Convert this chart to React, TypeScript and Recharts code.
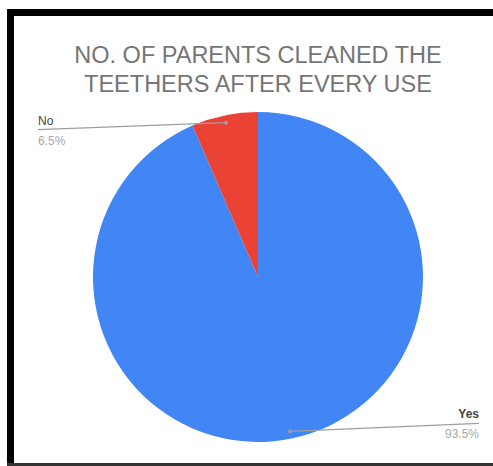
import { PieChart, Pie, Cell } from "recharts";

const answers = ["Yes", "No"];
const parentCounts = [93.5, 6.5];
const sliceColors = ["#4285f4", "#ea4335"];
const titleLines = ["NO. OF PARENTS CLEANED THE", "TEETHERS AFTER EVERY USE"];

const data = answers.map((name, i) => ({ name, value: parentCounts[i] }));

const RADIAN = Math.PI / 180;
const FONT = "'Liberation Sans', Arial, sans-serif";

// google-style label: small dot inside the slice, leader line out to the side
function renderLabel(props: any) {
  const { cx, cy, midAngle, outerRadius, percent, name } = props;
  const r = outerRadius * 0.955;
  const dx = cx + r * Math.cos(-midAngle * RADIAN);
  const dy = cy + r * Math.sin(-midAngle * RADIAN);
  const left = dx < cx;
  const endX = left ? cx - 220 : cx + 221;
  const endY = left ? dy + 7 : dy - 8;
  const anchor = left ? "start" : "end";
  return (
    <g>
      <line x1={dx} y1={dy} x2={endX} y2={endY} stroke="#9e9e9e" strokeWidth={1.2} />
      <circle cx={dx} cy={dy} r={2} fill="#9e9e9e" />
      <text
        x={endX}
        y={endY - 5}
        textAnchor={anchor}
        fontFamily={FONT}
        fontSize={12}
        fill="#444"
        fontWeight={left ? 400 : 700}
      >
        {name}
      </text>
      <text x={endX} y={endY + 15} textAnchor={anchor} fontFamily={FONT} fontSize={12} fill="#a8a8a8">
        {(percent * 100).toFixed(1) + "%"}
      </text>
    </g>
  );
}

export default function App() {
  return (
    <div style={{ position: "absolute", left: 0, top: 0, width: 493, height: 466, background: "#fff", overflow: "hidden" }}>
      {/* frame of the pasted screenshot: thick left/top, thin bottom */}
      <svg width={493} height={466} style={{ position: "absolute", left: 0, top: 0 }}>
        <rect x={7} y={9} width={7} height={457} fill="#000" />
        <rect x={7} y={9} width={500} height={7} fill="#000" />
        <rect x={7} y={463} width={500} height={3} fill="#333" />
      </svg>
      {titleLines.map((t, i) => (
        <div
          key={i}
          style={{
            position: "absolute",
            left: 58,
            width: 400,
            top: 41 + i * 29,
            lineHeight: "28px",
            textAlign: "center",
            fontFamily: FONT,
            fontSize: 23.5,
            color: "#757575",
            whiteSpace: "nowrap",
          }}
        >
          {t}
        </div>
      ))}
      <div style={{ position: "absolute", left: 0, top: 0 }}>
        <PieChart width={493} height={466} margin={{ top: 0, right: 0, bottom: 0, left: 0 }}>
          <Pie
            data={data}
            dataKey="value"
            nameKey="name"
            cx={258}
            cy={277}
            outerRadius={165}
            startAngle={90}
            endAngle={-270}
            stroke="none"
            labelLine={false}
            label={renderLabel}
            isAnimationActive={false}
          >
            {data.map((_, i) => (
              <Cell key={i} fill={sliceColors[i]} />
            ))}
          </Pie>
        </PieChart>
      </div>
    </div>
  );
}
